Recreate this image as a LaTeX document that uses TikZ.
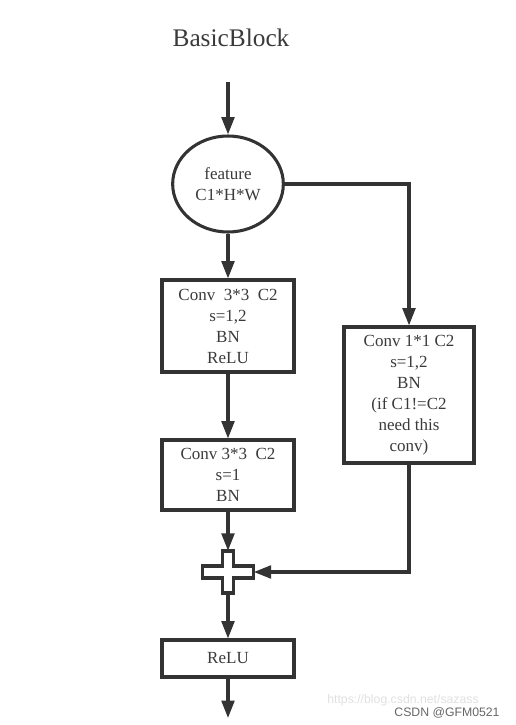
\documentclass[tikz,border=0pt]{standalone}
\usepackage{fontspec}
\setmainfont{Liberation Serif}
\setsansfont{Liberation Sans}
\usetikzlibrary{positioning,shapes.geometric,arrows.meta}
\usepackage{xcolor}
\definecolor{linegray}{HTML}{333333}
\definecolor{textgray}{HTML}{3A3A3A}

\begin{document}
\begin{tikzpicture}
[x=0.75pt, y=-0.75pt,
% The layer style is used to draw the boxes of the block
layer/.style={rectangle, draw=linegray, line width=2.3pt, minimum width=99pt, inner sep=0pt, align=center, text=textgray, font=\fontsize{12.75}{15.75}\selectfont},
% The feature style is used to draw the input map
feature/.style={ellipse, draw=linegray, line width=2.3pt, minimum width=83pt, minimum height=72pt, inner sep=0pt, align=center, text=textgray, font=\fontsize{12.75}{15.75}\selectfont},
% The flow style is used to draw the arrows
flow/.style={draw=linegray, line width=2.3pt, -{Triangle[length=13pt,width=9.5pt]}},
link/.style={draw=linegray, line width=2.3pt},
% The mark style is used for the marks of the site
mark text/.style={inner sep=0pt, font=\sffamily\fontsize{9.2}{11}\selectfont}
]
\useasboundingbox (0,0) rectangle (516,725);
% Draw title
\node (title) at (231,38) [font=\fontsize{19}{22}\selectfont, text=textgray] {BasicBlock};
% Draw layers
\node (feat) at (228,184) [feature] {feature\\C1*H*W};
\node (conva) at (228,326) [layer, minimum height=69pt] {Conv~~3*3~~C2\\s=1,2\\BN\\ReLU};
\node (convb) at (228,475) [layer, minimum height=52.5pt] {Conv 3*3~~C2\\s=1\\BN};
\node (convc) at (409,395) [layer, minimum width=97.5pt, minimum height=102pt] {Conv 1*1 C2\\s=1,2\\BN\\(if C1!=C2\\need this\\conv)};
\node (plus) at (228,572) [minimum width=38.25pt, minimum height=31.5pt, inner sep=0pt] {};
\node (relu) at (228,658.5) [layer, minimum height=27.75pt] {ReLU};
\coordinate (in) at (228,82);
\coordinate (out) at (228,718);
% Draw the add sign
\draw[link, fill=white] (plus.center) ++(-5.5,-21) -- ++(11,0) -- ++(0,15) -- ++(20,0) -- ++(0,12) -- ++(-20,0) -- ++(0,15) -- ++(-11,0) -- ++(0,-15) -- ++(-20,0) -- ++(0,-12) -- ++(20,0) -- cycle;
% Draw arrows
\draw[flow] (in) -- (feat);
\draw[flow] (feat) -- (conva);
\draw[flow] (conva) -- (convb);
\draw[flow] (convb) -- (plus);
\draw[flow] (plus) -- (relu);
\draw[flow] (relu) -- (out);
\draw[flow] (feat.east) -- (feat.east -| convc.north) -- (convc.north);
\draw[flow] (convc.south) |- (plus.east);
% Draw marks
\node (url) at (403,700) [mark text, text=black!12] {https://blog.csdn.net/sazass};
\node (csdn) at (447,713) [mark text, text=black!60] {CSDN @GFM0521};
\end{tikzpicture}
\end{document}
